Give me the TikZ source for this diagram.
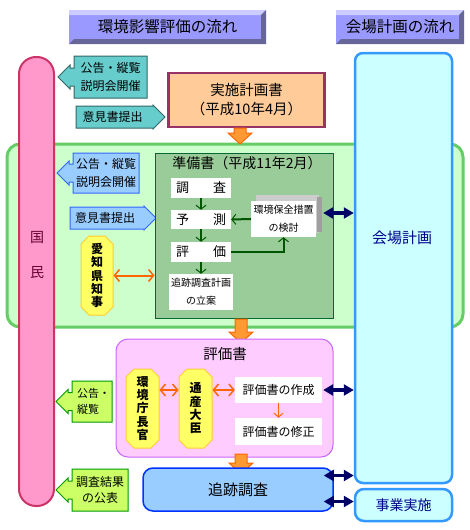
\documentclass[tikz,border=0pt]{standalone}
\usepackage{fontspec}
\setmainfont{Noto Sans CJK JP}
\usetikzlibrary{arrows.meta,shapes.misc}

\definecolor{titlemid}{HTML}{9999FF}
\definecolor{titlelight}{HTML}{CCCCFF}
\definecolor{titledark}{HTML}{666699}
\definecolor{kokuminfill}{HTML}{FF99CC}
\definecolor{kokuminline}{HTML}{CC3366}
\definecolor{kaijofill}{HTML}{CCFFFF}
\definecolor{kaijoline}{HTML}{3399FF}
\definecolor{navy}{HTML}{000066}
\definecolor{orangeline}{HTML}{FF6600}
\definecolor{orangefill}{HTML}{FF9933}

\tikzset{
  titletext/.style={font=\fontsize{15.5}{18}\selectfont},
  greenarea/.style={draw=green!60!black!60, draw={rgb,255:red,102;green,204;blue,102}, fill={rgb,255:red,204;green,255;blue,204}, line width=3pt, rounded corners=13pt, inner sep=0pt},
  kokuminbar/.style={draw=kokuminline, fill=kokuminfill, line width=2pt, rounded corners=17pt, inner sep=0pt},
  kaijobar/.style={draw=kaijoline, fill=kaijofill, line width=2.5pt, rounded corners=8pt, inner sep=0pt, text={rgb,255:red,0;green,0;blue,140}},
  tealcall/.style={draw={rgb,255:red,51;green,102;blue,102}, fill={rgb,255:red,102;green,204;blue,204}, line width=1pt},
  bluecall/.style={draw={rgb,255:red,51;green,102;blue,255}, fill={rgb,255:red,153;green,204;blue,255}, line width=1pt},
  greencall/.style={draw={rgb,255:red,0;green,153;blue,0}, fill={rgb,255:red,204;green,255;blue,102}, line width=1pt},
  calltext/.style={align=center, inner sep=0pt, font=\fontsize{12}{18}\selectfont},
  jisshibox/.style={draw={rgb,255:red,153;green,51;blue,102}, fill={rgb,255:red,255;green,204;blue,153}, line width=2.5pt, align=center, inner sep=0pt, font=\fontsize{14.5}{19}\selectfont},
  junbibox/.style={draw={rgb,255:red,0;green,102;blue,51}, fill={rgb,255:red,153;green,204;blue,153}, line width=1pt, inner sep=0pt},
  whitebox/.style={fill=white, inner sep=0pt, align=center, font=\fontsize{13}{16}\selectfont},
  yellowbox/.style={chamfered rectangle, chamfered rectangle xsep=4pt, chamfered rectangle ysep=4pt, draw={rgb,255:red,255;green,204;blue,51}, fill={rgb,255:red,255;green,255;blue,102}, line width=1pt, inner sep=0pt, align=center, font=\bfseries\fontsize{12}{13.3}\selectfont},
  hyokabox/.style={draw={rgb,255:red,204;green,102;blue,255}, fill={rgb,255:red,255;green,204;blue,255}, line width=1pt, rounded corners=12pt, inner sep=0pt},
  tsuisekibox/.style={draw={rgb,255:red,0;green,51;blue,255}, fill={rgb,255:red,153;green,204;blue,255}, line width=1.5pt, rounded corners=10pt, inner sep=0pt, font=\fontsize{15}{18}\selectfont},
  greenarrow/.style={draw={rgb,255:red,0;green,85;blue,0}, line width=2pt, -{Straight Barb[length=4pt,width=10pt,line width=1pt]}},
  orangearrow/.style={draw=orangeline, line width=2pt, {Straight Barb[length=5pt,width=12pt,line width=1.5pt]}-{Straight Barb[length=5pt,width=12pt,line width=1.5pt]}},
  orangethin/.style={draw=orangeline, line width=1pt, -{Straight Barb[length=4pt,width=9pt]}},
  navyarrow/.style={draw=navy, line width=3.5pt, {Triangle[length=10pt,width=11pt]}-{Triangle[length=10pt,width=11pt]}},
  fatarrow/.style={draw=orangeline, fill=orangefill, line width=1pt}
}

\newcommand{\titlebox}[4]{%
  \fill[titlemid] (#1,#2) rectangle (#3,#4);
  \fill[titlelight] (#1,#2) -- (#3,#2) -- ({#3-5},{#2+5}) -- ({#1},{#2+5}) -- cycle;
  \fill[titledark] (#1,#4) -- (#3,#4) -- (#3,#2) -- ({#3-5},{#2+5}) -- ({#3-5},{#4-5}) -- ({#1+5},{#4-5}) -- cycle;}
\newcommand{\callleft}[6]{%
  \draw[#1] (#2,#3) -- (#4,#3) -- (#4,#5) -- (#2,#5) -- ++(0,{-((#5-#3)/2-#6)}) -- ++(-4,0)
    -- ++(0,{12-#6}) -- ++(-12,-12) -- ++(12,-12) -- ++(0,{12-#6}) -- ++(4,0) -- cycle;}
\newcommand{\callright}[6]{%
  \draw[#1] (#4,#3) -- (#2,#3) -- (#2,#5) -- (#4,#5) -- ++(0,{-((#5-#3)/2-#6)}) -- ++(4,0)
    -- ++(0,{12-#6}) -- ++(12,-12) -- ++(-12,-12) -- ++(0,{12-#6}) -- ++(-4,0) -- cycle;}
\newcommand{\fatdown}[3]{%
  \draw[fatarrow] ({#1-6},#2) -- ({#1+6},#2) -- ({#1+6},{#3-11}) -- ({#1+12},{#3-11})
    -- (#1,#3) -- ({#1-12},{#3-11}) -- ({#1-6},{#3-11}) -- cycle;}

\begin{document}
\begin{tikzpicture}[x=1pt,y=-1pt]
\useasboundingbox (0,0) rectangle (470,530);

\titlebox{69}{10}{266}{44}
\node[titletext] (hyokaflow) at (167.5,27) {環境影響評価の流れ};
\titlebox{336}{10}{464}{44}
\node[titletext] (kaijoflow) at (400,27) {会場計画の流れ};

\node[greenarea, minimum width=456pt, minimum height=183pt] (stage) at (235,235.5) {};
\node[kokuminbar, minimum width=35pt, minimum height=449pt] (kokumin) at (36.5,281.5) {};
\node[align=center, text={rgb,255:red,102;green,0;blue,51}, font=\fontsize{14}{35}\selectfont] (kokuminlabel) at (37,255) {国\\民};
\node[kaijobar, minimum width=97pt, minimum height=430pt] (kaijo) at (403.5,268) {};
\node[text={rgb,255:red,0;green,0;blue,140}, font=\fontsize{15}{18}\selectfont] (kaijolabel) at (402,238) {会場計画};
\node[kaijobar, rounded corners=9pt, minimum width=97pt, minimum height=32pt, font=\fontsize{14}{16}\selectfont] (jigyo) at (403.5,505) {事業実施};

\callleft{tealcall}{74}{56}{147}{98}{9}
\node[calltext] (kokoku1) at (110.5,77) {公告・縦覧\\説明会開催};
\callright{tealcall}{76}{106}{149}{128}{11}
\node[calltext] (iken1) at (112.5,117) {意見書提出};
\callleft{bluecall}{73}{153}{139}{193}{9}
\node[calltext] (kokoku2) at (106,173) {公告・縦覧\\説明会開催};
\callright{bluecall}{70}{207}{140}{229}{11}
\node[calltext] (iken2) at (105,218) {意見書提出};
\callleft{greencall}{72}{381}{112}{422}{9}
\node[calltext, align=left, font=\fontsize{11}{16}\selectfont] (kokoku3) at (93.5,401) {公告・\\縦覧};
\callleft{greencall}{72}{469}{128}{511}{9}
\node[calltext, font=\fontsize{12}{15.5}\selectfont] (kohyo) at (100,490) {調査結果\\の公表};

\node[jisshibox, minimum width=156pt, minimum height=54pt] (jisshi) at (246.5,100) {実施計画書\\（平成10年4月）};
\fatdown{240}{128}{144}

\node[junbibox, minimum width=178pt, minimum height=165pt] (junbi) at (244,235.5) {};
\node[font=\fontsize{14}{16}\selectfont] (junbilabel) at (247,163) {準備書（平成11年2月）};
\node[whitebox, minimum width=60pt, minimum height=20pt] (chosa) at (201,188) {調\hspace{24pt}査};
\node[whitebox, minimum width=60pt, minimum height=19pt] (yosoku) at (201,219.5) {予\hspace{24pt}測};
\node[whitebox, minimum width=60pt, minimum height=20pt] (hyoka) at (201,252) {評\hspace{24pt}価};
\node[whitebox, minimum width=64pt, minimum height=36pt, font=\fontsize{10}{18}\selectfont] (keikaku) at (201,292) {追跡調査計画\\の立案};
\fill[gray!40] (256,195) rectangle (319,233);
\fill[gray!75] (317,197) rectangle (322,232);
\node[whitebox, minimum width=65pt, minimum height=36pt, font=\fontsize{10}{18}\selectfont] (kankyo) at (283.5,219) {環境保全措置\\の検討};
\draw[greenarrow] (chosa) -- (yosoku);
\draw[greenarrow] (yosoku) -- (hyoka);
\draw[greenarrow] (hyoka) -- (keikaku);
\draw[greenarrow] (kankyo.west) -- (yosoku.east);
\draw[greenarrow] (hyoka.east) -| (kankyo.south);

\node[yellowbox, minimum width=32pt, minimum height=79pt] (chiji) at (97,275.5) {愛\\知\\県\\知\\事};
\draw[orangearrow] (chiji.east) -- (chiji.east -| junbi.west);
\fatdown{241}{319}{343}

\node[hyokabox, minimum width=217pt, minimum height=118pt] (hyokasho) at (224.5,398) {};
\node[font=\fontsize{14.5}{16}\selectfont] (hyokalabel) at (225,354) {評価書};
\node[yellowbox, minimum width=33pt, minimum height=79pt] (chokan) at (142.5,408.5) {環\\境\\庁\\長\\官};
\node[yellowbox, minimum width=33pt, minimum height=79pt] (tsusan) at (195.5,408.5) {通\\産\\大\\臣};
\node[whitebox, minimum width=87pt, minimum height=26pt, font=\fontsize{12}{14}\selectfont] (sakusei) at (278.5,390) {評価書の作成};
\node[whitebox, minimum width=87pt, minimum height=27pt, font=\fontsize{12}{14}\selectfont] (shusei) at (278.5,431.5) {評価書の修正};
\draw[orangearrow] ([yshift=18.5pt]chokan.east) -- ([yshift=18.5pt]tsusan.west);
\draw[orangearrow] ([yshift=18.5pt]tsusan.east) -- (sakusei.west);
\draw[orangethin] (sakusei) -- (shusei);
\fatdown{241}{454}{474}

\node[tsuisekibox, minimum width=190pt, minimum height=43pt] (tsuiseki) at (238,489.5) {追跡調査};

\coordinate (k1) at ([shift={(7,-6)}]kankyo.east);
\coordinate (k2) at ([xshift=1pt]sakusei.east);
\coordinate (k3) at ([shift={(-10,-14)}]tsuiseki.east);
\coordinate (k4) at ([shift={(-10,12)}]tsuiseki.east);
\draw[navyarrow] (k1) -- (k1 -| kaijo.west);
\draw[navyarrow] (k2) -- (k2 -| kaijo.west);
\draw[navyarrow] (k3) -- (k3 -| kaijo.west);
\draw[navyarrow] (k4) -- (k4 -| jigyo.west);
\end{tikzpicture}
\end{document}
